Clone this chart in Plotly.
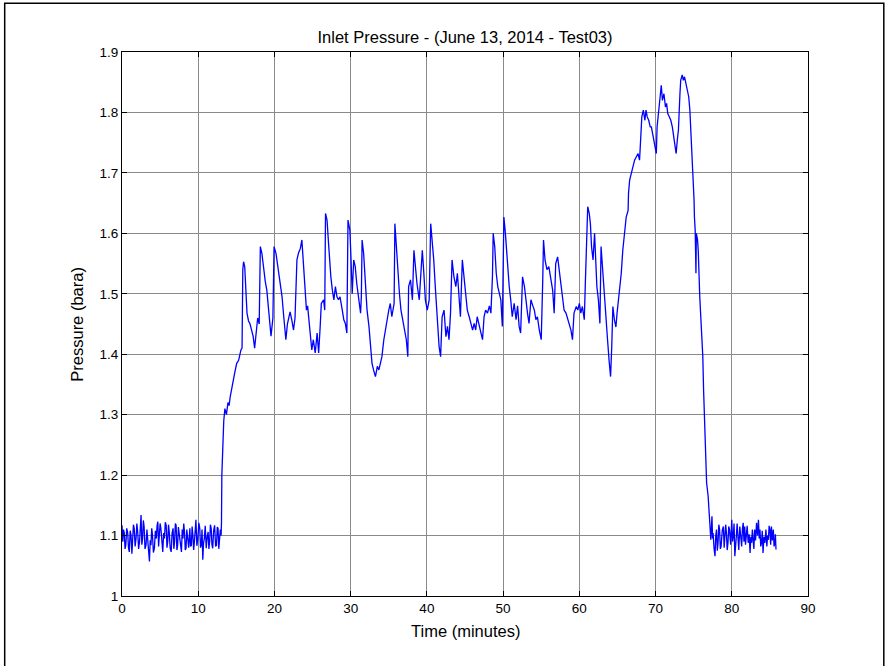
import plotly.graph_objects as go

# Inlet pressure log, June 13, 2014 - Test03 (time in minutes, pressure in bara)
baseline_start = [
    (0.0, 1.117), (0.05, 1.098), (0.1, 1.090), (0.2, 1.110), (0.3, 1.104), (0.4, 1.078),
    (0.5, 1.084), (0.62, 1.112), (0.75, 1.104), (0.85, 1.080), (0.96, 1.073), (1.07, 1.108),
    (1.18, 1.101), (1.3, 1.070), (1.4, 1.090), (1.5, 1.118), (1.6, 1.112), (1.72, 1.082),
    (1.84, 1.095), (1.95, 1.120), (2.06, 1.106), (2.18, 1.078), (2.3, 1.090), (2.4, 1.115),
    (2.5, 1.134), (2.6, 1.085), (2.7, 1.095), (2.8, 1.125), (2.9, 1.115), (3.02, 1.078),
    (3.15, 1.084), (3.27, 1.110), (3.38, 1.090), (3.5, 1.070), (3.6, 1.057), (3.7, 1.092),
    (3.8, 1.084), (3.9, 1.112), (4.0, 1.101), (4.12, 1.072), (4.25, 1.079), (4.38, 1.108),
    (4.5, 1.095), (4.6, 1.116), (4.7, 1.123), (4.8, 1.082), (4.9, 1.095), (5.0, 1.120),
    (5.1, 1.112), (5.22, 1.086), (5.35, 1.073), (5.46, 1.104), (5.57, 1.095), (5.68, 1.122),
    (5.8, 1.117), (5.9, 1.080), (6.0, 1.090), (6.1, 1.118), (6.2, 1.106), (6.32, 1.079),
    (6.45, 1.073), (6.57, 1.104), (6.7, 1.112), (6.8, 1.078), (6.9, 1.090), (7.0, 1.120),
    (7.1, 1.117), (7.2, 1.076), (7.3, 1.084), (7.4, 1.114), (7.5, 1.101), (7.65, 1.085),
    (7.8, 1.073), (7.9, 1.110), (8.0, 1.095), (8.1, 1.120), (8.2, 1.106), (8.3, 1.076),
    (8.4, 1.079), (8.5, 1.110), (8.6, 1.101), (8.75, 1.080), (8.9, 1.112), (9.0, 1.082),
    (9.1, 1.084), (9.2, 1.115), (9.3, 1.101), (9.4, 1.076), (9.5, 1.090), (9.6, 1.112),
    (9.7, 1.126), (9.82, 1.083), (9.95, 1.095), (10.08, 1.121), (10.2, 1.112), (10.3, 1.080),
    (10.4, 1.084), (10.5, 1.110), (10.6, 1.060), (10.7, 1.088), (10.8, 1.095), (10.92, 1.116),
    (11.05, 1.079), (11.18, 1.098), (11.3, 1.106), (11.4, 1.078), (11.5, 1.090), (11.6, 1.118),
    (11.7, 1.112), (11.8, 1.085), (11.9, 1.079), (12.02, 1.108), (12.15, 1.117), (12.28, 1.082),
    (12.4, 1.084), (12.5, 1.114), (12.6, 1.112), (12.7, 1.078), (12.8, 1.090), (12.9, 1.110),
    (13.0, 1.100),
]

ramp_up = [
    (13.05, 1.120), (13.1, 1.200), (13.25, 1.270), (13.35, 1.290), (13.5, 1.310), (13.7, 1.300),
    (13.9, 1.320), (14.05, 1.315), (14.2, 1.330), (14.4, 1.345), (14.6, 1.360), (14.8, 1.370),
    (15.05, 1.385), (15.3, 1.390), (15.6, 1.407), (15.75, 1.410),
]

plateau = [
    (15.85, 1.540), (15.95, 1.553), (16.1, 1.545), (16.25, 1.500), (16.4, 1.468), (16.6, 1.455),
    (16.8, 1.450), (17.0, 1.440), (17.2, 1.430), (17.4, 1.410), (17.6, 1.440), (17.8, 1.460),
    (18.0, 1.450), (18.15, 1.578), (18.35, 1.567), (18.5, 1.550), (18.65, 1.534), (18.8, 1.520),
    (19.0, 1.506), (19.2, 1.480), (19.35, 1.468), (19.55, 1.430), (19.8, 1.460), (19.95, 1.578),
    (20.2, 1.567), (20.5, 1.540), (20.75, 1.525), (21.0, 1.495), (21.2, 1.465), (21.35, 1.440),
    (21.5, 1.424), (21.7, 1.450), (21.9, 1.460), (22.05, 1.470), (22.3, 1.455), (22.5, 1.440),
    (22.7, 1.460), (22.95, 1.556), (23.15, 1.567), (23.4, 1.575), (23.6, 1.589), (23.8, 1.545),
    (24.0, 1.500), (24.2, 1.473), (24.35, 1.480), (24.5, 1.457), (24.7, 1.435), (24.9, 1.407),
    (25.1, 1.424), (25.35, 1.402), (25.6, 1.435), (25.8, 1.402), (26.0, 1.446), (26.15, 1.484),
    (26.45, 1.490), (26.6, 1.473), (26.7, 1.633), (26.9, 1.622), (27.1, 1.583), (27.25, 1.545),
    (27.4, 1.528), (27.6, 1.506), (27.8, 1.490), (28.0, 1.512), (28.2, 1.495), (28.4, 1.490),
    (28.6, 1.495), (28.9, 1.473), (29.1, 1.457), (29.3, 1.451), (29.5, 1.435), (29.65, 1.622),
    (29.9, 1.605), (30.05, 1.556), (30.2, 1.500), (30.4, 1.556), (30.6, 1.545), (30.8, 1.517),
    (31.05, 1.490), (31.3, 1.468), (31.4, 1.495), (31.5, 1.589), (31.7, 1.567), (31.9, 1.517),
    (32.15, 1.473), (32.4, 1.446), (32.6, 1.413), (32.8, 1.385), (33.0, 1.374), (33.25, 1.363),
    (33.5, 1.380), (33.7, 1.374), (33.9, 1.385), (34.1, 1.396), (34.35, 1.424), (34.6, 1.446),
    (34.8, 1.462), (35.0, 1.473), (35.2, 1.484), (35.4, 1.462), (35.7, 1.484), (35.8, 1.616),
    (36.0, 1.578), (36.2, 1.534), (36.4, 1.500), (36.6, 1.473), (36.85, 1.457), (37.1, 1.440),
    (37.3, 1.424), (37.5, 1.396), (37.6, 1.512), (37.85, 1.523), (38.1, 1.490), (38.3, 1.572),
    (38.5, 1.545), (38.7, 1.517), (39.0, 1.490), (39.2, 1.523), (39.4, 1.572), (39.6, 1.534),
    (39.8, 1.490), (40.05, 1.473), (40.3, 1.490), (40.5, 1.616), (40.7, 1.589), (40.9, 1.556),
    (41.1, 1.512), (41.4, 1.451), (41.6, 1.413), (41.8, 1.396), (42.0, 1.462), (42.25, 1.473),
    (42.5, 1.429), (42.7, 1.446), (42.9, 1.424), (43.1, 1.468), (43.3, 1.556), (43.55, 1.528),
    (43.8, 1.512), (44.0, 1.534), (44.2, 1.495), (44.4, 1.462), (44.65, 1.556), (44.9, 1.523),
    (45.1, 1.490), (45.3, 1.473), (45.55, 1.462), (45.75, 1.451), (46.0, 1.440), (46.2, 1.451),
    (46.4, 1.440), (46.6, 1.462), (46.85, 1.446), (47.1, 1.435), (47.3, 1.424), (47.5, 1.462),
    (47.7, 1.473), (47.95, 1.468), (48.2, 1.480), (48.4, 1.468), (48.6, 1.528), (48.7, 1.600),
    (48.9, 1.578), (49.1, 1.534), (49.3, 1.512), (49.5, 1.500), (49.7, 1.490), (49.9, 1.446),
    (50.0, 1.600), (50.1, 1.627), (50.3, 1.600), (50.5, 1.561), (50.65, 1.528), (50.8, 1.512),
    (51.0, 1.490), (51.2, 1.462), (51.45, 1.484), (51.7, 1.457), (51.9, 1.480), (52.1, 1.446),
    (52.3, 1.435), (52.55, 1.528), (52.8, 1.512), (53.0, 1.484), (53.2, 1.468), (53.4, 1.451),
    (53.65, 1.490), (53.9, 1.480), (54.1, 1.473), (54.3, 1.457), (54.5, 1.462), (54.75, 1.440),
    (55.0, 1.424), (55.2, 1.523), (55.3, 1.589), (55.5, 1.556), (55.75, 1.540), (56.0, 1.545),
    (56.3, 1.523), (56.5, 1.506), (56.7, 1.468), (56.9, 1.550), (57.15, 1.561), (57.4, 1.534),
    (57.6, 1.506), (57.8, 1.490), (58.0, 1.473), (58.25, 1.468), (58.5, 1.457), (58.7, 1.451),
    (58.9, 1.440), (59.1, 1.424), (59.3, 1.468), (59.6, 1.479), (59.8, 1.473), (60.0, 1.484),
    (60.2, 1.468), (60.4, 1.479), (60.65, 1.457), (60.8, 1.523), (60.9, 1.572), (61.1, 1.644),
    (61.3, 1.633), (61.45, 1.616), (61.6, 1.578), (61.8, 1.556), (62.0, 1.600), (62.15, 1.561),
    (62.3, 1.512), (62.5, 1.490), (62.7, 1.451), (62.85, 1.578), (63.0, 1.550), (63.2, 1.501),
    (63.4, 1.468), (63.55, 1.440), (63.7, 1.424), (63.9, 1.390), (64.1, 1.363), (64.25, 1.412),
    (64.4, 1.479), (64.6, 1.457), (64.8, 1.445), (64.95, 1.468), (65.1, 1.484), (65.3, 1.506),
    (65.5, 1.534),
]

peak = [
    (65.7, 1.572), (65.9, 1.600), (66.15, 1.627), (66.4, 1.638), (66.45, 1.666), (66.6, 1.688),
    (66.8, 1.699), (67.0, 1.710), (67.25, 1.721), (67.5, 1.727), (67.7, 1.732), (67.9, 1.721),
    (68.0, 1.754), (68.2, 1.793), (68.4, 1.804), (68.6, 1.787), (68.75, 1.804), (68.9, 1.793),
    (69.1, 1.787), (69.3, 1.776), (69.45, 1.776), (69.6, 1.765), (69.8, 1.754), (70.0, 1.743),
    (70.1, 1.732), (70.2, 1.776), (70.4, 1.809), (70.6, 1.826), (70.75, 1.845), (70.9, 1.820),
    (71.1, 1.831), (71.3, 1.809), (71.45, 1.815), (71.6, 1.798), (71.8, 1.793), (72.0, 1.787),
    (72.2, 1.776), (72.35, 1.760), (72.5, 1.743), (72.7, 1.732), (72.85, 1.754), (73.0, 1.771),
    (73.2, 1.831), (73.3, 1.853), (73.5, 1.862), (73.65, 1.853), (73.8, 1.859), (74.0, 1.848),
    (74.2, 1.837), (74.35, 1.826), (74.5, 1.804),
]

ramp_down = [
    (74.7, 1.754), (74.8, 1.710), (74.9, 1.683), (75.05, 1.655), (75.1, 1.627), (75.2, 1.605),
    (75.3, 1.534), (75.35, 1.600), (75.5, 1.590), (75.6, 1.572), (75.8, 1.495), (76.0, 1.440),
    (76.2, 1.396), (76.3, 1.341), (76.45, 1.280), (76.6, 1.247), (76.7, 1.187), (76.9, 1.165),
    (77.0, 1.143), (77.15, 1.126), (77.25, 1.093),
]

baseline_end = [
    (77.4, 1.132), (77.48, 1.095), (77.55, 1.104), (77.68, 1.078), (77.8, 1.066), (77.9, 1.100),
    (78.0, 1.110), (78.1, 1.075), (78.2, 1.088), (78.3, 1.118), (78.4, 1.110), (78.5, 1.078),
    (78.6, 1.082), (78.75, 1.108), (78.9, 1.115), (79.0, 1.080), (79.1, 1.093), (79.2, 1.118),
    (79.3, 1.104), (79.4, 1.076), (79.5, 1.088), (79.6, 1.115), (79.7, 1.110), (79.85, 1.085),
    (80.0, 1.126), (80.1, 1.090), (80.2, 1.099), (80.3, 1.120), (80.4, 1.066), (80.5, 1.094),
    (80.6, 1.099), (80.7, 1.120), (80.8, 1.088), (80.92, 1.076), (81.05, 1.115), (81.18, 1.090),
    (81.3, 1.082), (81.4, 1.112), (81.5, 1.121), (81.6, 1.090), (81.7, 1.115), (81.8, 1.085),
    (81.9, 1.099), (82.02, 1.116), (82.15, 1.088), (82.28, 1.102), (82.4, 1.071), (82.5, 1.098),
    (82.6, 1.088), (82.7, 1.110), (82.8, 1.093), (82.9, 1.078), (83.0, 1.110), (83.12, 1.092),
    (83.25, 1.121), (83.38, 1.100), (83.5, 1.126), (83.6, 1.095), (83.7, 1.110), (83.8, 1.082),
    (83.9, 1.088), (84.0, 1.108), (84.1, 1.071), (84.22, 1.098), (84.35, 1.088), (84.48, 1.110),
    (84.6, 1.082), (84.7, 1.100), (84.8, 1.093), (84.9, 1.116), (85.0, 1.110), (85.1, 1.085),
    (85.2, 1.115), (85.32, 1.092), (85.45, 1.110), (85.55, 1.082), (85.65, 1.088), (85.72, 1.102),
    (85.8, 1.077),
]

x_ticks = [0, 10, 20, 30, 40, 50, 60, 70, 80, 90]
y_ticks = [1.0, 1.1, 1.2, 1.3, 1.4, 1.5, 1.6, 1.7, 1.8, 1.9]
y_tick_text = ["1", "1.1", "1.2", "1.3", "1.4", "1.5", "1.6", "1.7", "1.8", "1.9"]

series = baseline_start + ramp_up + plateau + peak + ramp_down + baseline_end
time_min = [t for t, _ in series]
pressure_bara = [p for _, p in series]

FONT = "Liberation Sans, Arial, sans-serif"

fig = go.Figure(
    go.Scatter(
        x=time_min,
        y=pressure_bara,
        mode="lines",
        line=dict(color="#0000ff", width=1.3),
        showlegend=False,
    )
)

axis_common = dict(
    showgrid=True,
    gridcolor="#8a8a8a",
    gridwidth=1,
    zeroline=False,
    showline=True,
    linecolor="black",
    linewidth=1,
    mirror="ticks",
    ticks="inside",
    ticklen=5,
    tickcolor="black",
    tickfont=dict(family=FONT, size=13.5, color="black"),
)

fig.update_xaxes(range=[0, 90], tickvals=x_ticks, **axis_common)
fig.update_yaxes(range=[1.0, 1.9], tickvals=y_ticks, ticktext=y_tick_text, **axis_common)

fig.update_layout(
    width=886,
    height=666,
    margin=dict(l=122, r=78, t=52, b=70),
    paper_bgcolor="white",
    plot_bgcolor="white",
    title=dict(
        text="Inlet Pressure - (June 13, 2014 - Test03)",
        font=dict(family=FONT, size=16.5, color="black"),
        x=0.5,
        xref="paper",
        xanchor="center",
        y=1 - 37 / 666,
        yref="container",
        yanchor="middle",
    ),
    annotations=[
        dict(
            text="Time (minutes)",
            x=0.5, y=-0.064, xref="paper", yref="paper",
            xanchor="center", yanchor="middle", showarrow=False,
            font=dict(family=FONT, size=16.5, color="black"),
        ),
        dict(
            text="Pressure (bara)",
            x=-0.066, y=0.5, xref="paper", yref="paper",
            xanchor="center", yanchor="middle", showarrow=False, textangle=-90,
            font=dict(family=FONT, size=16.5, color="black"),
        ),
    ],
    shapes=[
        # figure frame (left, top, right edges visible)
        dict(
            type="rect", xref="paper", yref="paper",
            x0=-0.171, x1=1.1105, y0=-0.15, y1=1.0895,
            line=dict(color="black", width=1.5), fillcolor="rgba(0,0,0,0)",
            layer="above",
        ),
    ],
)

fig.write_html("out.html")
